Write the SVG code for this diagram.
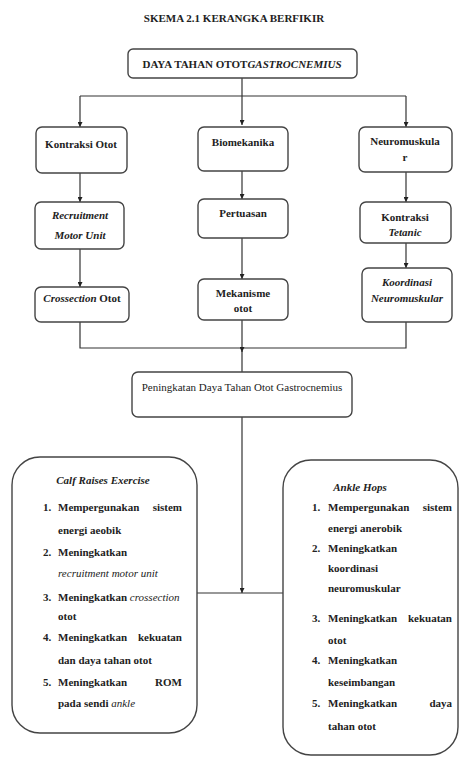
<svg xmlns="http://www.w3.org/2000/svg" width="461" height="758" viewBox="0 0 461 758">
<defs>
<marker id="ah" viewBox="0 0 6 6" refX="6" refY="3" markerWidth="5" markerHeight="5" orient="auto" markerUnits="userSpaceOnUse">
<path d="M0,0 L6,3 L0,6 z" fill="#222"/>
</marker>
<style>
.t{font-family:"Liberation Serif","Times New Roman",serif;font-size:11px;font-weight:bold;fill:#222}
.i{font-style:italic}
.n{font-weight:normal}
.c{text-anchor:middle}
.e{text-anchor:end}
.box{fill:#fff;stroke:#444;stroke-width:1.4}
.ln{fill:none;stroke:#333;stroke-width:1.2}
</style>
</defs>
<rect width="461" height="758" fill="#fff"/>
<text class="t c" x="234" y="22">SKEMA 2.1 KERANGKA BERFIKIR</text>

<g id="connectors">
<path class="ln" d="M242,78 V125" marker-end="url(#ah)"/>
<path class="ln" d="M80,96 H406"/>
<path class="ln" d="M80,96 V127" marker-end="url(#ah)"/>
<path class="ln" d="M406,96 V127" marker-end="url(#ah)"/>
<path class="ln" d="M80,173 V202" marker-end="url(#ah)"/>
<path class="ln" d="M242,171 V199" marker-end="url(#ah)"/>
<path class="ln" d="M406,172 V202" marker-end="url(#ah)"/>
<path class="ln" d="M80,249 V287" marker-end="url(#ah)"/>
<path class="ln" d="M242,238 V279" marker-end="url(#ah)"/>
<path class="ln" d="M406,243 V268" marker-end="url(#ah)"/>
<path class="ln" d="M80,322 V348 H406 V322"/>
<path class="ln" d="M242,320 V352" marker-end="url(#ah)"/>
<path class="ln" d="M242,350 V372"/>
<path class="ln" d="M242,417 V593" marker-end="url(#ah)"/>
<path class="ln" d="M197,593 H283"/>
</g>

<g id="top">
<rect class="box" x="128" y="49" width="229" height="29" rx="5"/>
<text class="t c" x="242" y="68">DAYA TAHAN OTOT<tspan class="i">GASTROCNEMIUS</tspan></text>
</g>

<g id="kontraksi-otot">
<rect class="box" x="36" y="127" width="91" height="46" rx="6"/>
<text class="t c" x="81" y="148">Kontraksi Otot</text>
</g>
<g id="biomekanika">
<rect class="box" x="198" y="127" width="90" height="44" rx="6"/>
<text class="t c" x="243" y="146">Biomekanika</text>
</g>
<g id="neuromuskular">
<rect class="box" x="359" y="127" width="93" height="45" rx="6"/>
<text class="t c" x="405" y="145">Neuromuskula</text>
<text class="t c" x="405" y="161">r</text>
</g>

<g id="recruitment">
<rect class="box" x="35" y="202" width="89" height="47" rx="6"/>
<text class="t c i" x="80" y="219">Recruitment</text>
<text class="t c i" x="80" y="239">Motor Unit</text>
</g>
<g id="pertuasan">
<rect class="box" x="198" y="199" width="90" height="39" rx="6"/>
<text class="t c" x="243" y="217">Pertuasan</text>
</g>
<g id="kontraksi-tetanic">
<rect class="box" x="360" y="202" width="91" height="41" rx="6"/>
<text class="t c" x="405" y="221">Kontraksi</text>
<text class="t c i" x="405" y="236">Tetanic</text>
</g>

<g id="crossection">
<rect class="box" x="35" y="287" width="94" height="35" rx="6"/>
<text class="t c" x="82" y="302"><tspan class="i">Crossection</tspan> Otot</text>
</g>
<g id="mekanisme">
<rect class="box" x="198" y="279" width="90" height="41" rx="6"/>
<text class="t c" x="243" y="297">Mekanisme</text>
<text class="t c" x="243" y="312">otot</text>
</g>
<g id="koordinasi">
<rect class="box" x="362" y="268" width="90" height="54" rx="6"/>
<text class="t c i" x="407" y="286">Koordinasi</text>
<text class="t c i" x="407" y="302">Neuromuskular</text>
</g>

<g id="peningkatan">
<rect class="box" x="132" y="372" width="220" height="45" rx="6"/>
<text class="t c n" x="242" y="391">Peningkatan Daya Tahan Otot Gastrocnemius</text>
</g>

<g id="calf-raises">
<rect class="box" x="12" y="457" width="185" height="276" rx="28"/>
<text class="t c i" x="103" y="484">Calf Raises Exercise</text>
<text class="t" x="43" y="511">1.</text>
<text class="t" x="58" y="511">Mempergunakan</text>
<text class="t e" x="182" y="511">sistem</text>
<text class="t" x="58" y="534">energi aeobik</text>
<text class="t" x="43" y="556">2.</text>
<text class="t" x="58" y="556">Meningkatkan</text>
<text class="t i n" x="58" y="577">recruitment motor unit</text>
<text class="t" x="43" y="601">3.</text>
<text class="t" x="58" y="601">Meningkatkan <tspan class="i n">crossection</tspan></text>
<text class="t" x="58" y="620">otot</text>
<text class="t" x="43" y="641">4.</text>
<text class="t" x="58" y="641">Meningkatkan</text>
<text class="t e" x="182" y="641">kekuatan</text>
<text class="t" x="58" y="664">dan daya tahan otot</text>
<text class="t" x="43" y="686">5.</text>
<text class="t" x="58" y="686">Meningkatkan</text>
<text class="t e" x="182" y="686">ROM</text>
<text class="t" x="58" y="707">pada sendi <tspan class="i n">ankle</tspan></text>
</g>

<g id="ankle-hops">
<rect class="box" x="283" y="460" width="175" height="295" rx="28"/>
<text class="t c i" x="360" y="491">Ankle Hops</text>
<text class="t" x="312" y="511">1.</text>
<text class="t" x="328" y="511">Mempergunakan</text>
<text class="t e" x="452" y="511">sistem</text>
<text class="t" x="328" y="532">energi anerobik</text>
<text class="t" x="312" y="552">2.</text>
<text class="t" x="328" y="552">Meningkatkan</text>
<text class="t" x="328" y="572">koordinasi</text>
<text class="t" x="328" y="592">neuromuskular</text>
<text class="t" x="312" y="622">3.</text>
<text class="t" x="328" y="622">Meningkatkan</text>
<text class="t e" x="452" y="622">kekuatan</text>
<text class="t" x="328" y="644">otot</text>
<text class="t" x="312" y="664">4.</text>
<text class="t" x="328" y="664">Meningkatkan</text>
<text class="t" x="328" y="686">keseimbangan</text>
<text class="t" x="312" y="707">5.</text>
<text class="t" x="328" y="707">Meningkatkan</text>
<text class="t e" x="452" y="707">daya</text>
<text class="t" x="328" y="730">tahan otot</text>
</g>
</svg>
